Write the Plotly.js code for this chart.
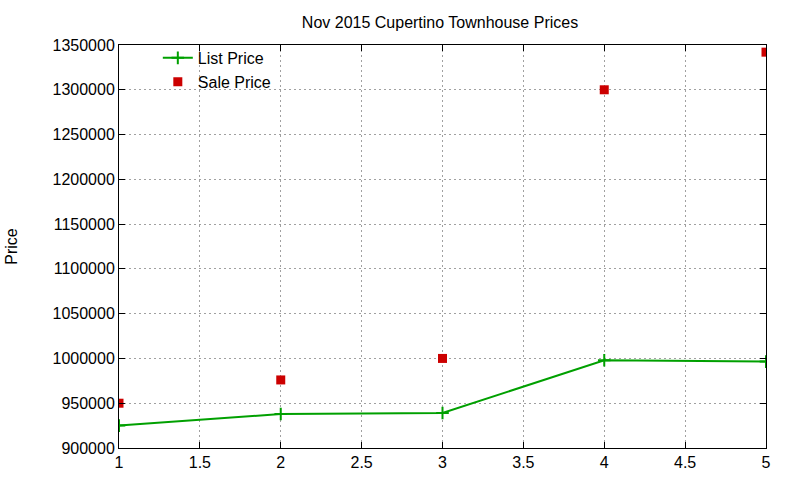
<!DOCTYPE html>
<html>
<head>
<meta charset="utf-8">
<script src="https://cdn.plot.ly/plotly-3.0.1.min.js"></script>
<style>
  body { margin: 0; background: #fff; }
  #grapharea { width: 800px; height: 480px; }
</style>
</head>
<body>
<div id="grapharea"></div>
<script>
// listing index 1..5, list price vs what it sold for
var idx = [1, 2, 3, 4, 5];
var listPrice = [925000, 938000, 939000, 998000, 996500];
var salePrice = [950000, 976000, 1000000, 1300000, 1342000];
var yTicks = [900000, 950000, 1000000, 1050000, 1100000, 1150000, 1200000, 1250000, 1300000, 1350000];

var font = {family: 'Liberation Sans, Arial, sans-serif', size: 16, color: '#000'};

var list = {
  x: idx, y: listPrice, name: 'List Price',
  mode: 'lines+markers', type: 'scatter',
  line: {color: '#00a000', width: 2},
  marker: {symbol: 'cross-thin', size: 9, line: {color: '#00a000', width: 2}, color: '#00a000'}
};
var sale = {
  x: idx, y: salePrice, name: 'Sale Price',
  mode: 'markers', type: 'scatter',
  marker: {symbol: 'square', size: 9, color: '#cc0000'}
};

var layout = {
  width: 800, height: 480,
  margin: {l: 119, r: 34, t: 45, b: 32},
  paper_bgcolor: '#fff', plot_bgcolor: '#fff',
  font: font,
  title: {text: 'Nov 2015 Cupertino Townhouse Prices', x: 0.55, xanchor: 'center', y: 0.965, font: {family: font.family, size: 16}},
  showlegend: true,
  legend: {x: 0.06, y: 1.01, xanchor: 'left', yanchor: 'top', bgcolor: 'rgba(0,0,0,0)',
           font: {family: font.family, size: 16}, tracegroupgap: 0, itemwidth: 30},
  xaxis: {
    range: [1, 5], tickvals: [1, 1.5, 2, 2.5, 3, 3.5, 4, 4.5, 5],
    ticktext: ['1', '1.5', '2', '2.5', '3', '3.5', '4', '4.5', '5'],
    showline: true, linecolor: '#000', linewidth: 1, mirror: 'ticks',
    ticks: 'inside', ticklen: 6, tickcolor: '#000',
    showgrid: true, gridcolor: '#a0a0a0', griddash: '2px,3px', gridwidth: 1,
    zeroline: false, fixedrange: true
  },
  yaxis: {
    range: [900000, 1350000], tickvals: yTicks,
    ticktext: yTicks.map(String),
    title: {text: 'Price', standoff: 30, font: {family: font.family, size: 16}},
    showline: true, linecolor: '#000', linewidth: 1, mirror: 'ticks',
    ticks: 'inside', ticklen: 6, tickcolor: '#000',
    showgrid: true, gridcolor: '#a0a0a0', griddash: '2px,3px', gridwidth: 1,
    zeroline: false, fixedrange: true
  }
};

Plotly.newPlot('grapharea', [list, sale], layout, {displayModeBar: false, staticPlot: true});
</script>
</body>
</html>
